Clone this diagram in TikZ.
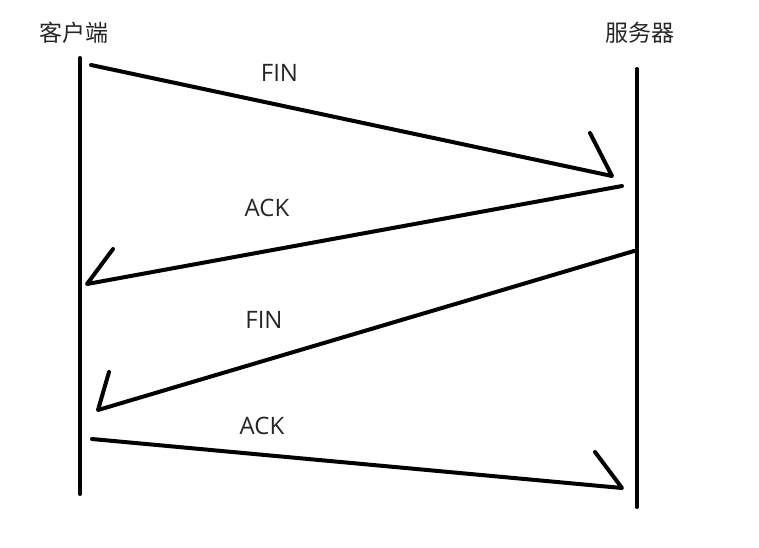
\documentclass[tikz,border=0pt]{standalone}
\usepackage{fontspec}
\setmainfont{Open Sans}
\newfontfamily\cjk{Noto Sans CJK SC}
\begin{document}
\begin{tikzpicture}[x=1pt,y=-1pt,
  stroke/.style={line width=4pt,line cap=round,line join=round},
  lbl/.style={font=\fontsize{24}{28}\selectfont,text=black!85,inner sep=0pt},
  ttl/.style={font=\cjk\fontsize{23}{27}\selectfont,text=black!85,inner sep=0pt}]
\useasboundingbox (0,0) rectangle (759,547);
\node[ttl] (client) at (74,33) {客户端};
\node[ttl] (server) at (640,33) {服务器};
% lifelines
\coordinate (cT) at (80,58); \coordinate (cB) at (80,494);
\coordinate (sT) at (637,69); \coordinate (sB) at (637,507);
\draw[stroke] (cT) -- (cB);
\draw[stroke] (sT) -- (sB);
% message 1
\coordinate (a1s) at (91,65); \coordinate (a1e) at (612,176); \coordinate (a1b) at (590,133);
\draw[stroke] (a1s) -- (a1e) -- (a1b);
\node[lbl] (fin1) at (279.5,73) {FIN};
% message 2
\coordinate (a2s) at (622,186); \coordinate (a2e) at (87,284); \coordinate (a2b) at (113,249);
\draw[stroke] (a2s) -- (a2e) -- (a2b);
\node[lbl] (ack1) at (267,208) {ACK};
% message 3
\coordinate (a3s) at (634,251); \coordinate (a3e) at (98,410); \coordinate (a3b) at (109,372);
\draw[stroke] (a3s) -- (a3e) -- (a3b);
\node[lbl] (fin2) at (264,320) {FIN};
% message 4
\coordinate (a4s) at (92,439); \coordinate (a4e) at (622,488); \coordinate (a4b) at (595,452);
\draw[stroke] (a4s) -- (a4e) -- (a4b);
\node[lbl] (ack2) at (262,426) {ACK};
\end{tikzpicture}
\end{document}
